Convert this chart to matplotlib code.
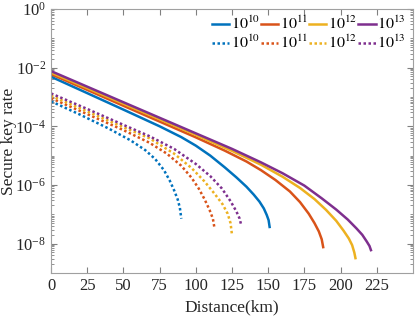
import matplotlib
matplotlib.use("Agg")
import matplotlib.pyplot as plt
from matplotlib.ticker import LogLocator, LogFormatterMathtext, NullFormatter

plt.rcParams['font.family'] = ['Liberation Serif', 'DejaVu Serif']
plt.rcParams['mathtext.fontset'] = 'stix'

# legend labels (pulse numbers)
labels = [r'$10^{10}$', r'$10^{11}$', r'$10^{12}$', r'$10^{13}$']
colors = ['#0072BD', '#D95319', '#EDB120', '#7E2F8E']

# solid curves: distance (km) and secure key rate
d_s10 = [0, 25, 50, 75, 90, 100, 110, 120, 128, 135, 140, 144, 147, 149, 150.3, 151]
r_s10 = [4.9e-3, 1.35e-3, 3.7e-4, 1.0e-4, 4.27e-5, 2.19e-5, 1.0e-5, 3.98e-6, 1.82e-6,
         8.7e-7, 4.7e-7, 2.7e-7, 1.58e-7, 9.5e-8, 6.3e-8, 3.7e-8]

d_s11 = [0, 25, 50, 75, 100, 120, 135, 145, 155, 165, 172, 178, 182, 185, 187, 188]
r_s11 = [6.0e-3, 1.74e-3, 5.0e-4, 1.45e-4, 4.2e-5, 1.48e-5, 6.3e-6, 3.2e-6, 1.48e-6,
         6.0e-7, 2.6e-7, 1.05e-7, 5.0e-8, 2.6e-8, 1.4e-8, 7.6e-9]

d_s12 = [0, 25, 50, 75, 100, 125, 145, 160, 172, 182, 190, 197, 202, 205.7, 208, 209.5, 210.3]
r_s12 = [6.8e-3, 2.0e-3, 5.9e-4, 1.74e-4, 5.1e-5, 1.45e-5, 4.9e-6, 1.9e-6, 7.9e-7,
         3.3e-7, 1.41e-7, 6.0e-8, 2.8e-8, 1.5e-8, 8.9e-9, 5.0e-9, 3.2e-9]

d_s13 = [0, 25, 50, 75, 100, 125, 145, 160, 175, 187, 197, 205, 211, 215, 218, 220, 221]
r_s13 = [7.6e-3, 2.24e-3, 6.6e-4, 1.95e-4, 5.75e-5, 1.7e-5, 5.9e-6, 2.5e-6, 9.5e-7,
         3.5e-7, 1.45e-7, 6.6e-8, 3.3e-8, 2.0e-8, 1.2e-8, 8.3e-9, 6.0e-9]

# dotted curves
d_d10 = [0, 20, 40, 55, 65, 72, 78, 82, 85, 87.5, 89, 90]
r_d10 = [7.1e-4, 2.5e-4, 8.3e-5, 3.3e-5, 1.55e-5, 7.6e-6, 3.2e-6, 1.41e-6, 6.6e-7,
         3.2e-7, 1.66e-7, 7.1e-8]

d_d11 = [0, 25, 50, 68, 80, 90, 97, 102, 106, 109.5, 111.8, 113]
r_d11 = [9.1e-4, 2.6e-4, 7.4e-5, 2.75e-5, 1.17e-5, 4.5e-6, 1.78e-6, 7.6e-7, 3.3e-7,
         1.41e-7, 7.1e-8, 3.2e-8]

d_d12 = [0, 25, 50, 68, 85, 97, 106, 113, 118.5, 122, 124, 125]
r_d12 = [1.1e-3, 3.2e-4, 9.3e-5, 3.9e-5, 1.17e-5, 3.8e-6, 1.32e-6, 5.0e-7, 2.2e-7,
         1.05e-7, 5.0e-8, 2.0e-8]

d_d13 = [0, 25, 50, 68, 85, 100, 110, 118, 124, 128, 130.3, 131.5]
r_d13 = [1.32e-3, 3.9e-4, 1.12e-4, 4.6e-5, 1.7e-5, 5.2e-6, 2.0e-6, 7.6e-7, 2.8e-7,
         1.26e-7, 7.1e-8, 4.0e-8]

solid = [(d_s10, r_s10), (d_s11, r_s11), (d_s12, r_s12), (d_s13, r_s13)]
dotted = [(d_d10, r_d10), (d_d11, r_d11), (d_d12, r_d12), (d_d13, r_d13)]

fig = plt.figure(figsize=(4.15, 3.2), dpi=100)
ax = fig.add_axes([0.123, 0.147, 0.872, 0.825])

handles = []
for i in range(4):
    h1, = ax.plot(solid[i][0], solid[i][1], color=colors[i], lw=1.8, label=labels[i])
    h2, = ax.plot(dotted[i][0], dotted[i][1], color=colors[i], lw=1.8,
                  linestyle=(0, (1, 1)), label=labels[i])
    handles += [h1, h2]

ax.set_yscale('log')
ax.set_xlim(0, 250)
ax.set_ylim(1e-9, 1)
ax.set_xticks(range(0, 226, 25))
ax.yaxis.set_major_locator(LogLocator(base=100, numticks=10))
ax.yaxis.set_major_formatter(LogFormatterMathtext(base=10))
ax.yaxis.set_minor_locator(LogLocator(base=10, subs=[1, 2, 3, 4, 5, 6, 7, 8, 9], numticks=20))
ax.yaxis.set_minor_formatter(NullFormatter())

ax.tick_params(which='both', direction='in', top=True, right=True, colors='#808080',
               labelcolor='#262626', labelsize=12)
ax.tick_params(which='major', length=4)
ax.tick_params(which='minor', length=2)
for s in ax.spines.values():
    s.set_color('#a0a0a0')

ax.set_xlabel('Distance(km)', fontsize=12.5, color='#262626')
ax.set_ylabel('Secure key rate', fontsize=12.5, color='#262626')
ax.xaxis.set_label_coords(0.5, -0.10)
ax.yaxis.set_label_coords(-0.093, 0.5)

ax.legend(handles=handles, ncol=4, loc='upper right', frameon=False, fontsize=11.5,
          handlelength=1.1, handletextpad=0.1, columnspacing=0.05,
          labelspacing=0.1, borderaxespad=0.05, bbox_to_anchor=(1.0, 1.0))

fig.savefig('out.png', dpi=100)
